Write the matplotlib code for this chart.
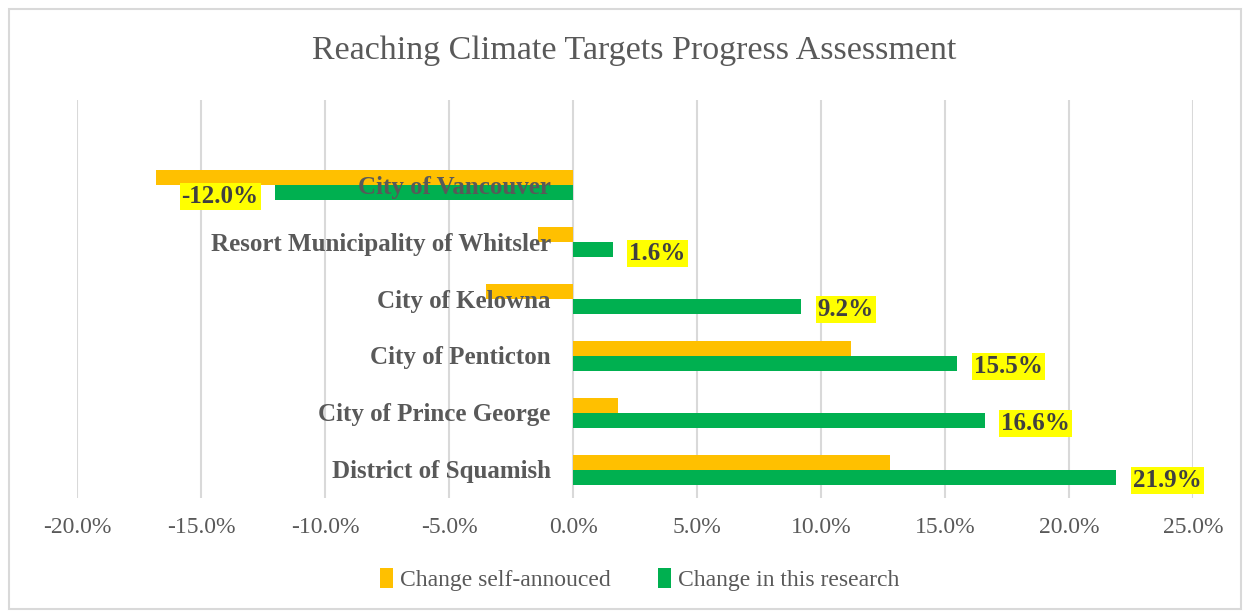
import numpy as np
import matplotlib.pyplot as plt
from matplotlib.patches import Rectangle

# data, bottom to top
cities = ['District of Squamish', 'City of Prince George', 'City of Penticton',
          'City of Kelowna', 'Resort Municipality of Whitsler', 'City of Vancouver']
self_announced = [12.8, 1.8, 11.2, -3.5, -1.4, -16.8]
this_research = [21.9, 16.6, 15.5, 9.2, 1.6, -12.0]
xticks = [-20, -15, -10, -5, 0, 5, 10, 15, 20, 25]

orange = '#FFC000'
green = '#00B050'
txt = '#595959'

plt.rcParams['font.family'] = ['Liberation Serif', 'DejaVu Serif']

fig = plt.figure(figsize=(12.5, 6.15), dpi=100)
ax = fig.add_axes([77/1250, 1-498/615, (1193-77)/1250, 398/615])

y = np.arange(len(cities))
h = 0.263
ax.barh(y + h/2, self_announced, height=h, color=orange, label='Change self-annouced', zorder=2)
ax.barh(y - h/2, this_research, height=h, color=green, label='Change in this research', zorder=2)

for i, name in enumerate(cities):
    ax.annotate(name, xy=(0, i), xytext=(-16, -1.5), textcoords='offset points',
                ha='right', va='center', fontsize=18, fontweight='bold', color=txt, zorder=5)

for i, v in enumerate(this_research):
    off = 12 if v >= 0 else -12
    ax.annotate('{0:.1f}%'.format(v), xy=(v, i - h/2), xytext=(off, -2.5), textcoords='offset points',
                ha='left' if v >= 0 else 'right', va='center', fontsize=18, fontweight='bold',
                color='#404040', zorder=6,
                bbox=dict(boxstyle='square,pad=0.08', fc='#FFFF00', ec='none'))

ax.set_xlim(-20, 25)
ax.set_ylim(-0.5, 6.5)
ax.set_xticks(xticks)
ax.set_xticklabels(['{0:.1f}%'.format(t) for t in xticks], fontsize=17, color=txt)
ax.set_yticks([])
ax.tick_params(axis='x', length=0, pad=14)
ax.grid(axis='x', color='#D9D9D9', lw=1.5, zorder=0)
for s in ax.spines.values():
    s.set_visible(False)

fig.text(0.507, 0.918, 'Reaching Climate Targets Progress Assessment', ha='center', va='center',
         fontsize=24.5, color=txt)

fig.legend(loc='center', bbox_to_anchor=(0.512, 0.057), ncol=2, frameon=False, fontsize=17,
           handlelength=0.55, handleheight=0.9, handletextpad=0.3, columnspacing=2.0,
           labelcolor=txt)

fig.patches.append(Rectangle((9/1250, 6/615), 1232/1250, 600/615, transform=fig.transFigure,
                             fill=False, ec='#D9D9D9', lw=1.5))

fig.savefig('out.png', dpi=100)
